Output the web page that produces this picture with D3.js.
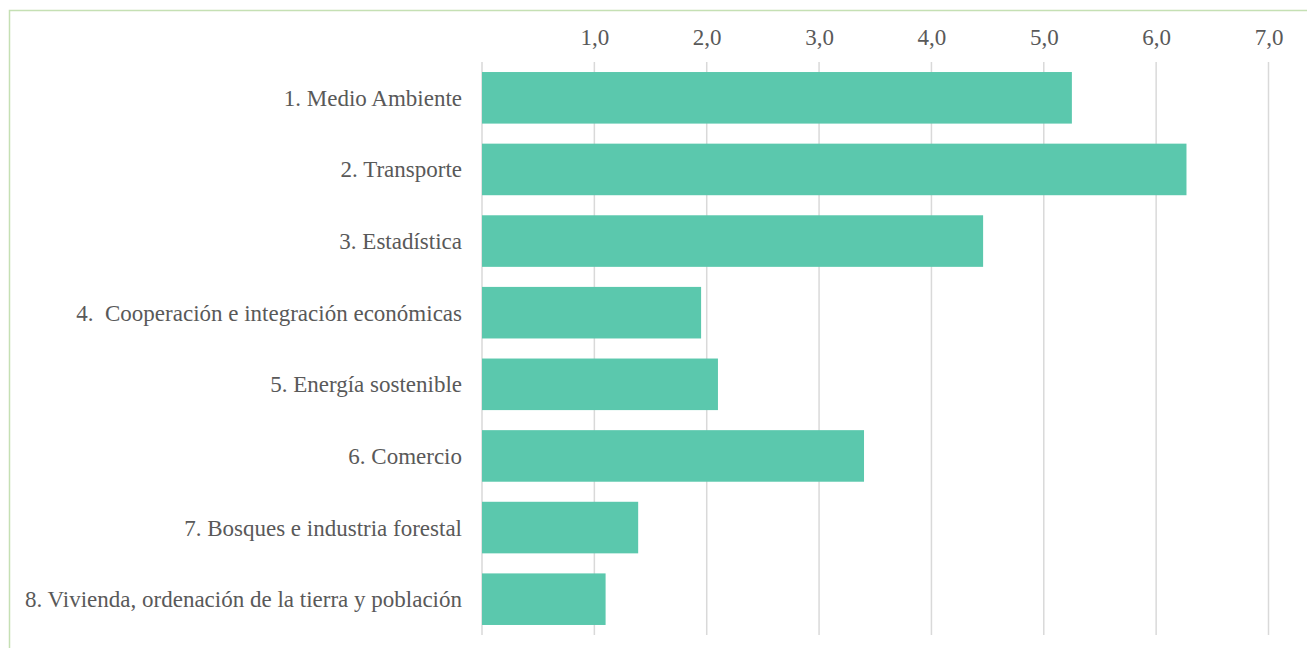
<!DOCTYPE html>
<html>
<head>
<meta charset="utf-8">
<script src="https://cdn.jsdelivr.net/npm/d3@7"></script>
<style>
  body { margin: 0; background: #fff; }
  svg { display: block; }
  .lbl { white-space: pre; }
  text { font-family: 'Liberation Serif', 'Times New Roman', serif; }
</style>
</head>
<body>
<div id="chart"></div>
<script>
const categories = [
  '1. Medio Ambiente',
  '2. Transporte',
  '3. Estadística',
  '4.  Cooperación e integración económicas',
  '5. Energía sostenible',
  '6. Comercio',
  '7. Bosques e industria forestal',
  '8. Vivienda, ordenación de la tierra y población'
];
const values = [5.25, 6.27, 4.46, 1.95, 2.10, 3.40, 1.39, 1.10];
const tickValues = [1, 2, 3, 4, 5, 6, 7];

const width = 1307, height = 648;
const plotLeft = 482, plotRight = 1268.5, plotTop = 62, plotBottom = 635;

const svg = d3.select('#chart').append('svg')
  .attr('width', width)
  .attr('height', height);

// light green frame
svg.append('rect')
  .attr('x', 9.5).attr('y', 10.5)
  .attr('width', 1320).attr('height', 700)
  .attr('fill', 'none')
  .attr('stroke', '#c5e0b4')
  .attr('stroke-width', 1.5);

const x = d3.scaleLinear().domain([0, 7]).range([plotLeft, plotRight]);
const y = d3.scaleBand().domain(categories).range([plotTop, plotBottom]).paddingInner(0.28).paddingOuter(0.14);

// gridlines
svg.append('g')
  .selectAll('line')
  .data([0].concat(tickValues))
  .enter()
  .append('line')
  .attr('x1', d => x(d)).attr('x2', d => x(d))
  .attr('y1', plotTop).attr('y2', plotBottom)
  .attr('stroke', '#d9d9d9')
  .attr('stroke-width', 1.5);

// top tick labels
const xAxis = d3.axisTop(x)
  .tickValues(tickValues)
  .tickSize(0)
  .tickPadding(0)
  .tickFormat(d => d3.format('.1f')(d).replace('.', ','));

svg.append('g')
  .attr('transform', 'translate(0,45)')
  .call(xAxis)
  .call(g => g.select('.domain').remove())
  .call(g => g.attr('font-family', null))
  .selectAll('text')
  .style('font-size', '23px')
  .attr('fill', '#595959');

// bars
svg.append('g')
  .selectAll('rect')
  .data(values)
  .enter()
  .append('rect')
  .attr('x', x(0))
  .attr('y', (d, i) => y(categories[i]))
  .attr('width', d => x(d) - x(0))
  .attr('height', y.bandwidth())
  .attr('fill', '#5bc8ad');

// category labels
svg.append('g')
  .selectAll('text')
  .data(categories)
  .enter()
  .append('text')
  .attr('class', 'lbl')
  .attr('x', 462)
  .attr('y', d => y(d) + y.bandwidth() / 2)
  .attr('dy', '0.35em')
  .attr('text-anchor', 'end')
  .style('font-size', '23px')
  .attr('fill', '#595959')
  .text(d => d);
</script>
</body>
</html>
